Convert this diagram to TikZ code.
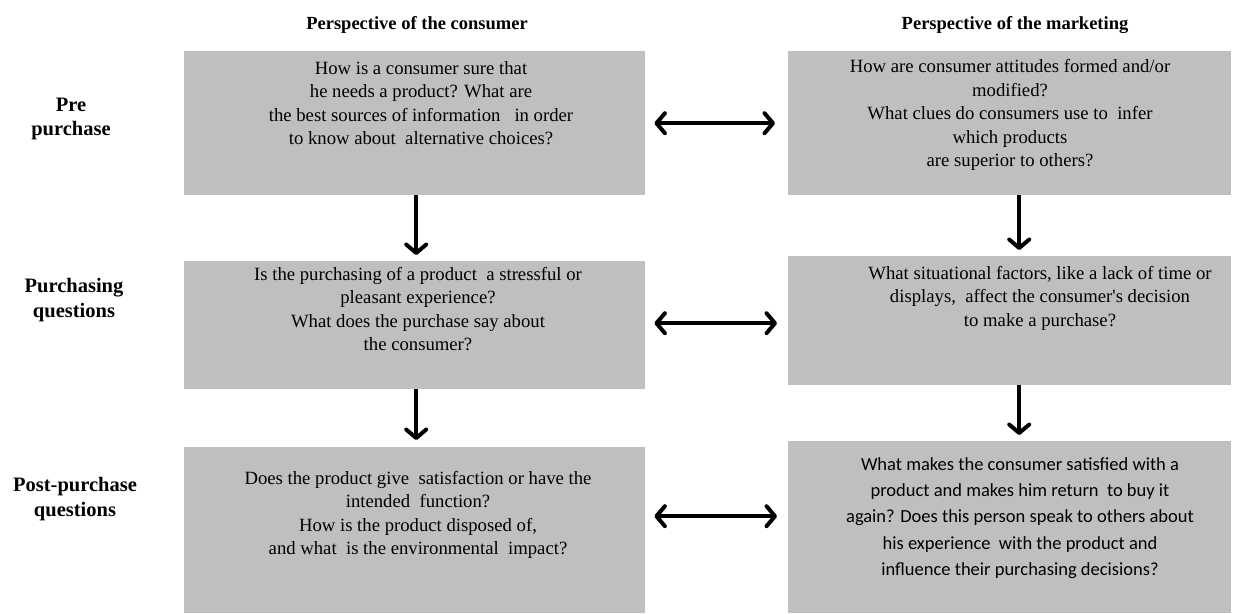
\documentclass[tikz,border=0pt]{standalone}
\usepackage{fontspec}
\setmainfont{Liberation Serif}
\newfontfamily\calib{Carlito}
\usetikzlibrary{arrows.meta}
\definecolor{boxgray}{HTML}{BFBFBF}
\tikzset{
  qbox/.style={fill=boxgray, draw=none, inner sep=0pt, anchor=north west},
  qtext/.style={align=center, inner sep=0pt, font=\rmfamily\fontsize{18.7}{23.5}\selectfont},
  head/.style={font=\bfseries\fontsize{18.5}{22}\selectfont, inner sep=0pt, anchor=base},
  rowlab/.style={align=center, font=\bfseries\fontsize{20.5}{24.5}\selectfont, inner sep=0pt},
  tip/.tip={Straight Barb[length=8.5pt,width=20pt,line cap=round,line join=round]},
  arr/.style={line width=4pt, -tip},
  darr/.style={line width=4pt, tip-tip}
}
\begin{document}
\begin{tikzpicture}[x=1pt, y=-1pt]
\useasboundingbox (0,0) rectangle (1236,613);
% boxes
\node[qbox, minimum width=461pt, minimum height=144pt] (A) at (184,51) {};
\node[qbox, minimum width=443pt, minimum height=144pt] (B) at (788,51) {};
\node[qbox, minimum width=461pt, minimum height=128pt] (C) at (184,261) {};
\node[qbox, minimum width=443pt, minimum height=129pt] (D) at (788,256) {};
\node[qbox, minimum width=461pt, minimum height=166pt] (E) at (184,447) {};
\node[qbox, minimum width=443pt, minimum height=172pt] (F) at (788,441) {};
% headings
\node[head] (h1) at (417,29) {Perspective of the consumer};
\node[head] (h2) at (1015,29) {Perspective of the marketing};
% row labels
\node[rowlab] (r1) at (71,119) {Pre\\purchase};
\node[rowlab] (r2) at (74,300) {Purchasing\\questions};
\node[rowlab] (r3) at (75,499) {Post-purchase\\questions};
% box texts
\node[qtext] (tA) at (421,103) {How is a consumer sure that\\he needs a product? What are\\the best sources of information \ \ in order\\to know about \ alternative choices?};
\node[qtext] (tB) at (1010,115) {How are consumer attitudes formed and/or\\modified?\\What clues do consumers use to \ infer\\which products\\are superior to others?};
\node[qtext] (tC) at (418,309) {Is the purchasing of a product \ a stressful or\\pleasant experience?\\What does the purchase say about\\the consumer?};
\node[qtext] (tD) at (1040,298) {What situational factors, like a lack of time or\\displays, \ affect the consumer\textquotesingle s decision\\to make a purchase?};
\node[qtext] (tE) at (418,515) {Does the product give \ satisfaction or have the\\intended \ function?\\How is the product disposed of,\\and what \ is the environmental \ impact?};
\node[qtext, font=\calib\fontsize{18.5}{26.3}\selectfont] (tF) at (1020,518) {What makes the consumer satisfied with a\\product and makes him return \ to buy it\\again? Does this person speak to others about\\his experience \ with the product and\\influence their purchasing decisions?};
% vertical arrows
\draw[arr] ([xshift=1.5pt]A.south) -- ([xshift=1.5pt,yshift=6pt]C.north);
\draw[arr] ([xshift=9.5pt]B.south) -- ([xshift=9.5pt,yshift=6pt]D.north);
\draw[arr] ([xshift=1.5pt]C.south) -- ([xshift=1.5pt,yshift=7pt]E.north);
\draw[arr] ([xshift=9.5pt]D.south) -- ([xshift=9.5pt,yshift=6pt]F.north);
% horizontal arrows
\draw[darr] ([xshift=9pt]A.east) -- ([xshift=-13pt]A.east -| B.west);
\draw[darr] ([xshift=9pt,yshift=2pt]C.east) -- ([xshift=-11pt,yshift=2pt]C.east -| D.west);
\draw[darr] ([xshift=9pt,yshift=14pt]E.east) -- ([xshift=-11pt,yshift=14pt]E.east -| F.west);
\end{tikzpicture}
\end{document}
